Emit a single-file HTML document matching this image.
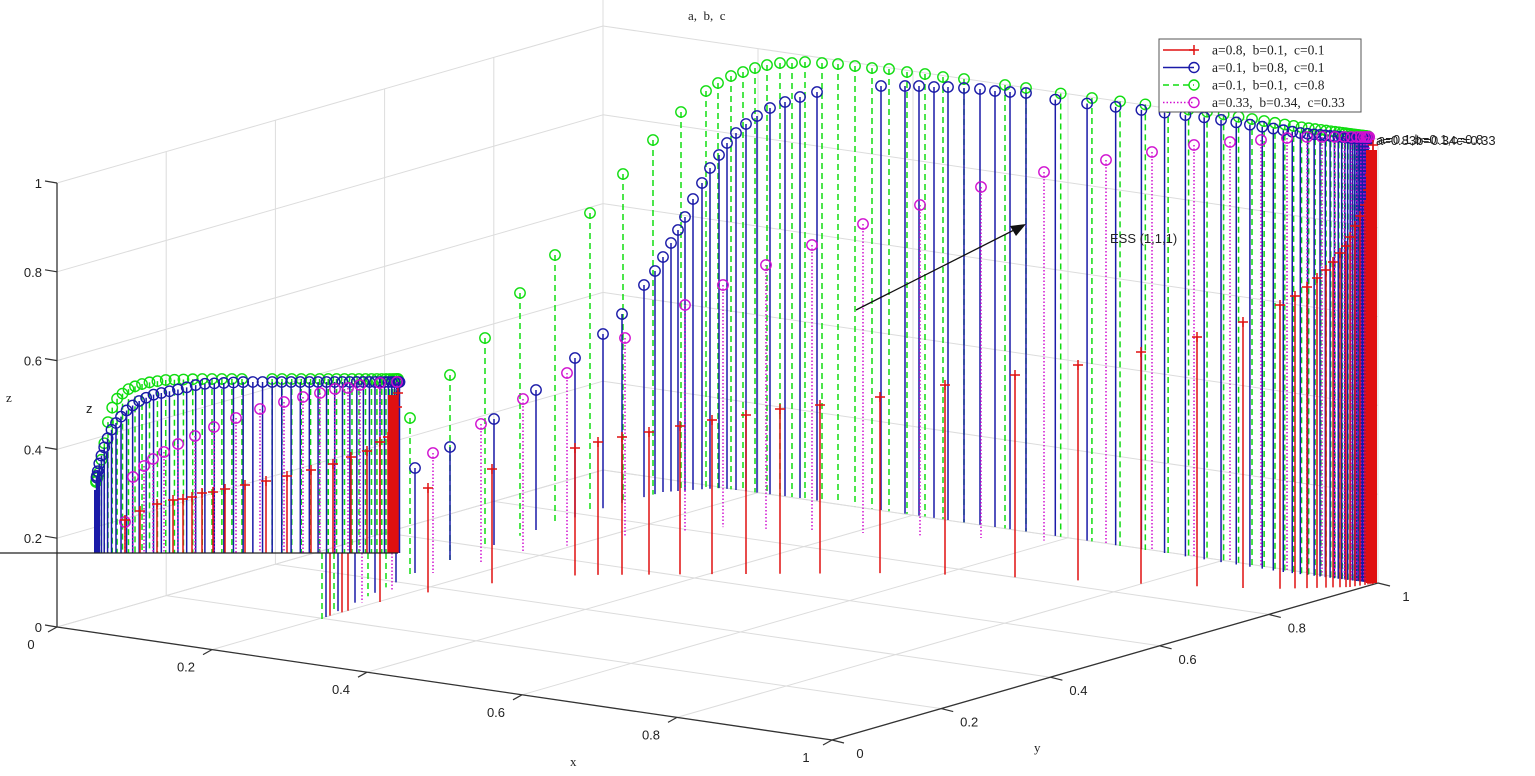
<!DOCTYPE html>
<html><head><meta charset="utf-8">
<style>
html,body{margin:0;padding:0;background:#fff;}
svg{display:block;}
.s{font-family:"Liberation Sans",sans-serif;font-size:13px;fill:#222;}
.f{font-family:"Liberation Serif",serif;font-size:13px;fill:#222;white-space:pre;}
</style></head>
<body>
<svg id="c" width="1535" height="776" xmlns="http://www.w3.org/2000/svg">
<rect width="1535" height="776" fill="#fff"/>
<g id="grid" stroke="#dcdcdc" stroke-width="1" fill="none"></g>
<g id="axes" stroke="#333" stroke-width="1.3" fill="none">
<line x1="57" y1="183" x2="57" y2="627"/>
<line x1="57" y1="627" x2="832" y2="740"/>
<line x1="832" y1="740" x2="1378" y2="583"/>
</g>
<g id="data"></g>
<g id="labels"></g>
<text class="f" x="688" y="20">a,  b,  c</text>
<text class="f" x="6" y="402">z</text>
<text class="s" x="86" y="413">z</text>
<text class="f" x="570" y="766">x</text>
<text class="f" x="1034" y="752">y</text>
<text class="s" x="1110" y="243">ESS (1,1,1)</text>
<line x1="856" y1="310" x2="1018" y2="228" stroke="#111" stroke-width="1.3"/>
<polygon points="1026,224 1010,226 1016,236" fill="#111"/>
<text class="s" x="1376" y="145" style="font-size:13px">a=0.83b=0.34c=0.33</text>
<text class="s" x="1378" y="144" style="font-size:13px">a=0.1,b=0.1,c=0.8</text>
<g id="legend"></g>
</svg>
<script>
const NS="http://www.w3.org/2000/svg";
function el(p,t,a){const e=document.createElementNS(NS,t);for(const k in a)e.setAttribute(k,a[k]);p.appendChild(e);return e;}
const G=document.getElementById('grid'),D=document.getElementById('data'),L=document.getElementById('labels');
const A=[57,627],B=[832,740],C=[1378,583],Dp=[603,470],ZH=444;
function P(x,y){return [A[0]+x*(B[0]-A[0])+y*(Dp[0]-A[0]), A[1]+x*(B[1]-A[1])+y*(Dp[1]-A[1])];}
for(let i=0;i<=5;i++){const t=i/5;
  let p=P(t,0),q=P(t,1);el(G,'line',{x1:p[0],y1:p[1],x2:q[0],y2:q[1]});
  p=P(0,t);q=P(1,t);el(G,'line',{x1:p[0],y1:p[1],x2:q[0],y2:q[1]});
  p=P(0,t);el(G,'line',{x1:p[0],y1:p[1],x2:p[0],y2:p[1]-ZH});
  p=P(t,1);el(G,'line',{x1:p[0],y1:p[1],x2:p[0],y2:p[1]-ZH});
  const z=t*ZH;
  el(G,'line',{x1:A[0],y1:A[1]-z,x2:Dp[0],y2:Dp[1]-z});
  el(G,'line',{x1:Dp[0],y1:Dp[1]-z,x2:C[0],y2:C[1]-z});
}
el(G,'line',{x1:603,y1:0,x2:603,y2:470});
const zl=['0','0.2','0.4','0.6','0.8','1'];
for(let i=0;i<=5;i++){const y=627-i*ZH/5;
  el(L,'line',{x1:45,y1:y-2,x2:57,y2:y,stroke:'#333','stroke-width':1.2});
  const t=el(L,'text',{class:'s',x:42,y:y+5,'text-anchor':'end'});t.textContent=zl[i];
  let p=P(i/5,0);el(L,'line',{x1:p[0],y1:p[1],x2:p[0]-9,y2:p[1]+5,stroke:'#333','stroke-width':1.2});
  let tx=el(L,'text',{class:'s',x:p[0]-26,y:p[1]+22,'text-anchor':'middle'});tx.textContent=zl[i];
  const yp=[B[0]+(i/5)*(C[0]-B[0]),B[1]+(i/5)*(C[1]-B[1])];
  el(L,'line',{x1:yp[0],y1:yp[1],x2:yp[0]+12,y2:yp[1]+3,stroke:'#333','stroke-width':1.2});
  let ty=el(L,'text',{class:'s',x:yp[0]+28,y:yp[1]+18,'text-anchor':'middle'});ty.textContent=zl[i];
}
function interp(pts,x){if(x<=pts[0][0])return pts[0][1];for(let i=1;i<pts.length;i++){if(x<=pts[i][0]){const a=pts[i-1],b=pts[i];return a[1]+(b[1]-a[1])*(x-a[0])/(b[0]-a[0]);}}return pts[pts.length-1][1];}
const COL={r:'#e01010',b:'#1a1aa8',g:'#10dd10',m:'#d010d0'};
const DASH={r:null,b:null,g:'6,4',m:'1.5,2'};
function stem(s,x,top,bot,mark=true){
  const a={x1:x,y1:top,x2:x,y2:bot,stroke:COL[s],'stroke-width':1.5};
  if(DASH[s])a['stroke-dasharray']=DASH[s];
  el(D,'line',a);
  if(mark)marker(s,x,top);
}
function marker(s,x,y){
  if(s==='r'){el(D,'path',{d:`M${x-5} ${y}H${x+5}M${x} ${y-5}V${y+5}`,stroke:COL.r,'stroke-width':1.5});}
  else el(D,'circle',{cx:x,cy:y,r:5.2,fill:'none',stroke:COL[s],'stroke-width':1.4});
}
const botBG=[[320,620],[415,573],[450,560],[494,545],[536,530],[607,507],[663,492],[720,488],[800,498],[1083,540],[1283,572],[1373,583]];
const botM=[[320,620],[433,573],[523,553],[600,540],[720,527],[1100,543],[1373,583]];
const botR=[[325,617],[380,602],[430,592],[494,583],[580,575],[900,573],[1035,578],[1165,585],[1270,589],[1350,587],[1378,583]];
const G1=[[410,418],[450,375],[485,338],[520,293],[555,255],[590,213],[623,174],[653,140],[681,112],[706,91],[718,83],[731,76],[743,72],[755,68],[767,65],[780,63],[792,63],[805,62],[822,63],[838,64],[855,66],[872,68],[889,69],[907,72],[925,74],[943,77],[964,79],[1005,85],[1026,88]];
const GT=[[1026,88],[1083,97],[1210,112],[1300,127],[1373,137]];
const B1=[[415,468],[450,447],[494,419],[536,390],[575,358],[603,334],[622,314],[644,285],[655,271],[663,257],[671,243],[678,230],[685,217],[693,199],[702,183],[710,168],[719,155],[727,143],[736,133],[746,124],[757,116],[770,108],[785,102],[800,97],[817,92],[881,86],[905,86],[919,86],[934,87],[948,87],[964,88],[980,89],[995,91],[1010,92],[1026,93]];
const BT=[[1026,93],[1083,100],[1210,115],[1300,130],[1373,137]];
const M1=[[433,453],[481,424],[523,399],[567,373],[625,338],[685,305],[723,285],[766,265],[812,245],[863,224],[920,205],[981,187],[1044,172],[1106,160],[1152,152],[1194,145],[1230,142],[1261,140],[1287,138],[1307,137],[1322,137]];
const R1=[[428,488],[492,469],[575,448],[598,442],[622,437],[649,432],[680,426],[712,420],[746,415],[780,409],[820,405],[880,397],[945,385],[1015,375],[1078,365],[1141,352],[1197,337],[1243,322],[1280,305],[1295,296],[1307,287],[1317,278],[1326,270],[1333,262],[1340,253],[1346,246],[1350,237],[1355,226],[1360,216],[1365,205],[1368,190],[1370,175],[1372,160],[1373,145]];
[[322,'g'],[326,'b'],[330,'r'],[334,'g'],[338,'b'],[342,'r'],[348,'r'],[355,'b'],[362,'m'],[368,'g'],[375,'b'],[380,'r'],[386,'g'],[392,'m'],[396,'b']].forEach(([x,s])=>{
  const bb=s==='r'?interp(botR,x):s==='m'?interp(botM,x):interp(botBG,x);stem(s,x,553,bb,false);});
G1.forEach(p=>stem('g',p[0],p[1],interp(botBG,p[0])));
for(let i=1;i<42;i++){const x=1373-347*Math.pow(0.9,i);stem('g',x,interp(GT,x),interp(botBG,x));}
B1.forEach(p=>stem('b',p[0],p[1],interp(botBG,p[0])));
for(let i=1;i<42;i++){const x=1373-347*Math.pow(0.9,i)-6*Math.pow(0.9,i);stem('b',x,interp(BT,x)+3,interp(botBG,x));}
M1.forEach(p=>stem('m',p[0],p[1],interp(botM,p[0])));
for(let i=1;i<10;i++){const x=1373-51*Math.pow(0.75,i);stem('m',x,137,interp(botM,x));}
R1.forEach(p=>stem('r',p[0],p[1],interp(botR,p[0])));
el(D,'rect',{x:1366,y:150,width:11,height:433,fill:COL.r});
const IG=[[95,485],[100,470],[102,455],[105,440],[108,422],[112,408],[118,397],[130,388],[145,383],[165,380],[200,379],[398,379]];
const IB=[[95,500],[96,480],[100,460],[105,445],[110,432],[118,420],[127,410],[137,402],[152,395],[180,389],[200,384],[245,382],[398,382]];
const IM=[[125,522],[133,477],[144,466],[153,459],[164,452],[178,444],[195,436],[214,427],[236,418],[260,409],[284,402],[303,397],[320,393],[335,389],[348,388],[360,385],[380,383],[397,382]];
const IR=[[125,520],[140,511],[157,504],[173,500],[183,499],[192,497],[202,493],[213,492],[225,489],[245,485],[266,481],[287,476],[311,470],[333,464],[351,457],[367,451],[380,442],[388,437],[393,425],[397,407],[398,393]];
function dens(n,a,b){const r=[];for(let i=0;i<n;i++){const t=i/(n-1);r.push(a+(b-a)*(1-Math.cos(Math.PI*t))/2);}return r;}
dens(48,96,398).forEach((x)=>{if(x>250&&x<268)return;stem('g',x,interp(IG,x),553);});
dens(50,95,398).forEach((x)=>{stem('b',x+1.5,interp(IB,x+1.5),553);});
IM.forEach(p=>stem('m',p[0],p[1],553));
IR.forEach(p=>stem('r',p[0],p[1],553));
el(D,'rect',{x:388,y:395,width:10,height:158,fill:COL.r});
el(D,'rect',{x:94,y:490,width:6,height:63,fill:COL.b});
el(D,'line',{x1:0,y1:553,x2:398,y2:553,stroke:'#222','stroke-width':1.3});
const LG=document.getElementById('legend');
el(LG,'rect',{x:1159,y:39,width:202,height:73,fill:'#fff',stroke:'#555','stroke-width':1});
const items=[['r','a=0.8,  b=0.1,  c=0.1'],['b','a=0.1,  b=0.8,  c=0.1'],['g','a=0.1,  b=0.1,  c=0.8'],['m','a=0.33,  b=0.34,  c=0.33']];
items.forEach(([s,t],i)=>{const y=50+i*17.5;
  const a={x1:1163,y1:y,x2:1194,y2:y,stroke:COL[s],'stroke-width':1.5};if(DASH[s])a['stroke-dasharray']=DASH[s];
  el(LG,'line',a);
  if(s==='r')el(LG,'path',{d:`M1189 ${y}H1199M1194 ${y-5}V${y+5}`,stroke:COL.r,'stroke-width':1.5});
  else el(LG,'circle',{cx:1194,cy:y,r:5,fill:'none',stroke:COL[s],'stroke-width':1.4});
  const tx=el(LG,'text',{class:'f',x:1212,y:y+4.5,style:'font-size:13.5px'});tx.textContent=t;});
</script>
</body></html>
